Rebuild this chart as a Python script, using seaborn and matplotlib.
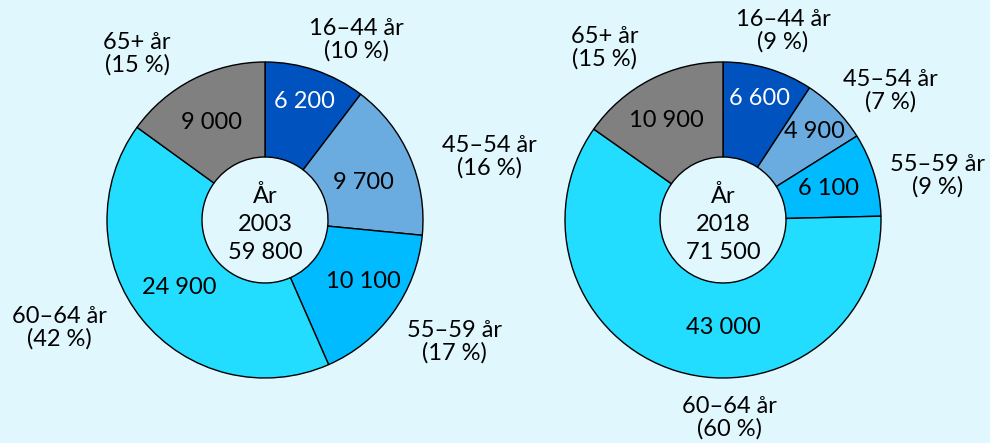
import numpy as np
import matplotlib
matplotlib.use("Agg")
import matplotlib.pyplot as plt
import seaborn as sns

# --- Dados ---
grupos = ["16–44 år", "45–54 år", "55–59 år", "60–64 år", "65+ år"]
anos = ["2003", "2018"]
valores_2003 = [6200, 9700, 10100, 24900, 9000]
valores_2018 = [6600, 4900, 6100, 43000, 10900]
pct_2003 = [10, 16, 17, 42, 15]
pct_2018 = [9, 7, 9, 60, 15]
totais = ["59 800", "71 500"]

cores = ["#0052bf", "#6aace0", "#00bbff", "#22ddff", "#808080"]
cor_texto = ["white", "black", "black", "black", "black"]
fundo = "#e0f7fe"

# --- Layout (pixels, origem no canto superior esquerdo) ---
centros = [(265, 220), (723, 220)]
raio = 158
raio_interno = 63
# posicao dos rotulos de grupo (dx, dy em unidades do raio)
pos_grupo = [
    [(0.58, 1.14), (1.42, 0.40), (1.20, -0.77), (-1.30, -0.68), (-0.81, 1.05)],
    [(0.38, 1.20), (1.06, 0.82), (1.36, 0.28), (0.04, -1.25), (-0.75, 1.09)],
]
pos_valor = [
    [(0.25, 0.75), (0.62, 0.24), (0.62, -0.39), (-0.54, -0.43), (-0.34, 0.62)],
    [(0.23, 0.77), (0.58, 0.56), (0.67, 0.20), (0.0, -0.68), (-0.36, 0.63)],
]

sns.set_theme(style="white")
plt.rcParams['font.family'] = ['Lato', 'DejaVu Sans']

fig = plt.figure(figsize=(9.9, 4.43), dpi=100)
fig.patch.set_facecolor(fundo)
ax = fig.add_axes([0, 0, 1, 1])
ax.set_facecolor(fundo)

fs = 17
for i, (valores, pct) in enumerate([(valores_2003, pct_2003), (valores_2018, pct_2018)]):
    cx, cy = centros[i]
    # com o eixo y invertido, o sentido anti-horario vira horario na tela
    ax.pie(valores, colors=cores, startangle=-90, counterclock=True,
           center=(cx, cy), radius=raio,
           wedgeprops=dict(width=raio - raio_interno, edgecolor="black", linewidth=1.0),
           frame=True)
    for j in range(len(grupos)):
        dx, dy = pos_grupo[i][j]
        ax.text(cx + dx * raio, cy - dy * raio, f"{grupos[j]}\n({pct[j]} %)",
                ha="center", va="center", fontsize=fs, color="black", linespacing=1.05)
        vx, vy = pos_valor[i][j]
        ax.text(cx + vx * raio, cy - vy * raio, f"{valores[j]:,}".replace(",", " "),
                ha="center", va="center", fontsize=fs, color=cor_texto[j])
    ax.text(cx, cy + 4, f"År\n{anos[i]}\n{totais[i]}", ha="center", va="center",
            fontsize=fs, color="black", linespacing=1.4)

ax.set_xlim(0, 990)
ax.set_ylim(443, 0)
ax.set_aspect("equal")
ax.axis("off")
fig.savefig("out.png", dpi=100, facecolor=fundo)
